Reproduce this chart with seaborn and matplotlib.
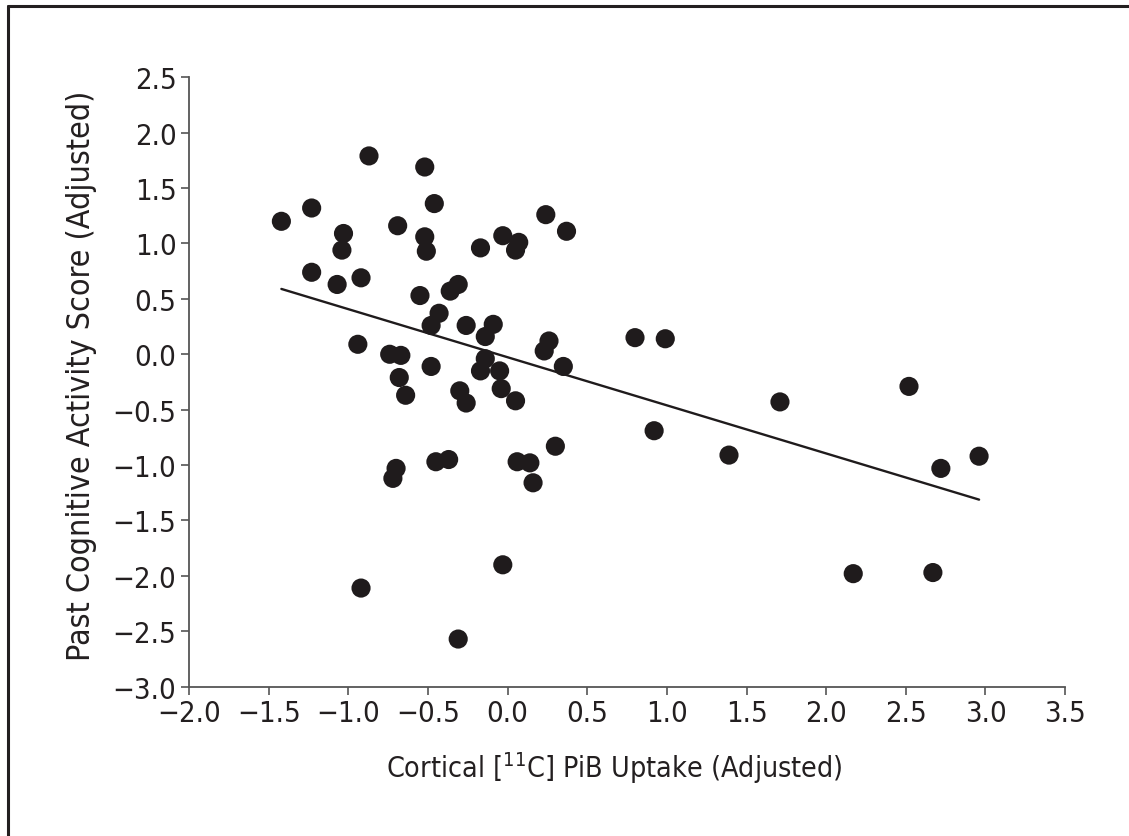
import numpy as np
import pandas as pd
import matplotlib.pyplot as plt
import seaborn as sns
from matplotlib.lines import Line2D

# values
pib_uptake = [-1.42, -1.23, -0.87, -0.52, -0.46, -0.69, -1.03, -1.04, -0.52, -0.51,
              -0.17, -0.03, 0.07, 0.05, 0.24, 0.37, -1.23, -1.07, -0.92, -0.55,
              -0.36, -0.31, -0.43, -0.48, -0.26, -0.09, -0.14, -0.94, -0.74, -0.67,
              -0.48, -0.14, -0.17, -0.05, 0.26, 0.23, 0.35, -0.68, -0.64, -0.30,
              -0.26, -0.04, 0.05, 0.30, -0.45, -0.37, 0.06, 0.14, 0.16, -0.70,
              -0.72, 0.80, 0.99, 0.92, 1.39, 1.71, 2.52, 2.72, 2.96, 2.17,
              2.67, -0.92, -0.03, -0.31]
activity_score = [1.20, 1.32, 1.79, 1.69, 1.36, 1.16, 1.09, 0.94, 1.06, 0.93,
                  0.96, 1.07, 1.01, 0.94, 1.26, 1.11, 0.74, 0.63, 0.69, 0.53,
                  0.57, 0.63, 0.37, 0.26, 0.26, 0.27, 0.16, 0.09, 0.00, -0.01,
                  -0.11, -0.04, -0.15, -0.15, 0.12, 0.03, -0.11, -0.21, -0.37, -0.33,
                  -0.44, -0.31, -0.42, -0.83, -0.97, -0.95, -0.97, -0.98, -1.16, -1.03,
                  -1.12, 0.15, 0.14, -0.69, -0.91, -0.43, -0.29, -1.03, -0.92, -1.98,
                  -1.97, -2.11, -1.90, -2.57]

df = pd.DataFrame({"pib": pib_uptake, "score": activity_score})

sns.set_style("ticks")
plt.rcParams['font.family'] = ['DejaVu Sans']
plt.rcParams['font.stretch'] = 'condensed'
plt.rcParams['mathtext.fontset'] = 'custom'
plt.rcParams['mathtext.rm'] = 'DejaVu Sans:stretch=condensed'

fig = plt.figure(figsize=(11.29, 8.37), dpi=100)
ax = fig.add_axes([0.1674, 0.1784, 0.7760, 0.7281])

sns.regplot(data=df, x="pib", y="score", ci=None, ax=ax,
            scatter_kws=dict(s=190, color="#1f1b1c", edgecolors="none", alpha=1),
            line_kws=dict(color="#1f1b1c", lw=1.7))

ax.set_xlim(-2.0, 3.5)
ax.set_ylim(-3.0, 2.5)
ax.set_xticks(np.arange(-2.0, 3.51, 0.5))
ax.set_yticks(np.arange(-3.0, 2.51, 0.5))
ax.xaxis.set_major_formatter(plt.FuncFormatter(lambda v, p: f"{v:.1f}".replace("-", "\u2212")))
ax.yaxis.set_major_formatter(plt.FuncFormatter(lambda v, p: f"{v:.1f}".replace("-", "\u2212")))
ax.tick_params(axis="both", labelsize=21, length=6, width=1.2, color="#555555",
               labelcolor="#231f20", pad=3)
for side in ["left", "bottom"]:
    ax.spines[side].set_color("#555555")
    ax.spines[side].set_linewidth(1.3)
sns.despine(ax=ax)

ax.set_xlabel(r"Cortical [$^{11}$C] PiB Uptake (Adjusted)", fontsize=20.5,
              color="#231f20")
ax.set_ylabel("Past Cognitive Activity Score (Adjusted)", fontsize=23,
              color="#231f20")
ax.xaxis.set_label_coords(0.486, -0.102)
ax.yaxis.set_label_coords(-0.105, 0.511)

# outer frame of the cropped figure (top and left edges)
fig.add_artist(Line2D([0.0075, 1.0], [0.992, 0.992], transform=fig.transFigure,
                      color="#231f20", lw=2.2))
fig.add_artist(Line2D([0.0075, 0.0075], [0.0, 0.992], transform=fig.transFigure,
                      color="#231f20", lw=2.2))

fig.savefig("out.png", dpi=100)
